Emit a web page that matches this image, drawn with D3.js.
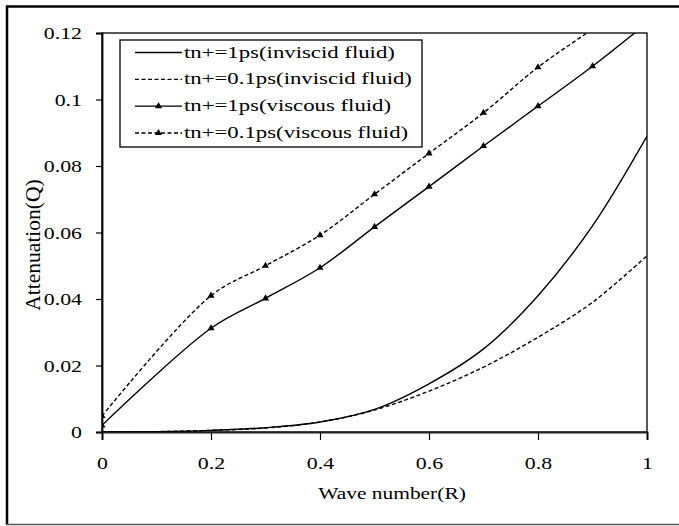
<!DOCTYPE html>
<html>
<head>
<meta charset="utf-8">
<script src="https://cdn.jsdelivr.net/npm/d3@7"></script>
<style>
  body { margin: 0; background: #fff; }
  svg text { font-family: "Liberation Serif", "Times New Roman", Tinos, "DejaVu Serif", serif !important; fill: #000; }
</style>
</head>
<body>
<svg id="chart" width="679" height="526"></svg>
<script>
// wave number samples
const rInviscid = [0, 0.1, 0.2, 0.3, 0.4, 0.5, 0.6, 0.7, 0.8, 0.9, 1.0];
const rViscous = [0, 0.2, 0.3, 0.4, 0.5, 0.6, 0.7, 0.8, 0.9, 1.0];

// attenuation values
const q1psInviscid = [0, 0.0001, 0.0005, 0.0013, 0.003, 0.0068, 0.0145, 0.025, 0.041, 0.062, 0.089];
const q01psInviscid = [0, 0.0001, 0.0005, 0.0012, 0.003, 0.0066, 0.0123, 0.0195, 0.0285, 0.039, 0.053];
const q1psViscous = [0.002, 0.0312, 0.0402, 0.0494, 0.0617, 0.0738, 0.086, 0.098, 0.110, 0.123];
const q01psViscous = [0.0048, 0.041, 0.050, 0.0592, 0.0715, 0.0838, 0.096, 0.1097, 0.1212, 0.133];

const legendLabels = [
  "tn+=1ps(inviscid fluid)",
  "tn+=0.1ps(inviscid fluid)",
  "tn+=1ps(viscous fluid)",
  "tn+=0.1ps(viscous fluid)",
];
const xTicks = [0, 0.2, 0.4, 0.6, 0.8, 1];
const yTicks = [0, 0.02, 0.04, 0.06, 0.08, 0.1, 0.12];

const series = [
  { r: rInviscid, q: q1psInviscid, dashed: false, marker: false },
  { r: rInviscid, q: q01psInviscid, dashed: true, marker: false },
  { r: rViscous, q: q1psViscous, dashed: false, marker: true },
  { r: rViscous, q: q01psViscous, dashed: true, marker: true },
];

// the source image is stretched sideways, so text gets a horizontal scale
const SX = 1.34;
const FONT = "'Liberation Serif', 'Times New Roman', Tinos, 'DejaVu Serif', serif";

const svg = d3.select("#chart");
const plotL = 102, plotR = 647, plotT = 33, plotB = 432;

const x = d3.scaleLinear().domain([0, 1]).range([plotL, plotR]);
const y = d3.scaleLinear().domain([0, 0.12]).range([plotB, plotT]);

// outer frame (left, top, bottom only)
svg.append("line").attr("x1", 7).attr("x2", 7).attr("y1", 6).attr("y2", 525)
  .attr("stroke", "#000").attr("stroke-width", 2.5);
svg.append("line").attr("x1", 6).attr("x2", 679).attr("y1", 6.5).attr("y2", 6.5)
  .attr("stroke", "#000").attr("stroke-width", 2.5);
svg.append("line").attr("x1", 6).attr("x2", 679).attr("y1", 524.5).attr("y2", 524.5)
  .attr("stroke", "#555").attr("stroke-width", 1.5);

// plot area border
svg.append("rect")
  .attr("x", plotL).attr("y", plotT)
  .attr("width", plotR - plotL).attr("height", plotB - plotT)
  .attr("fill", "none").attr("stroke", "#000").attr("stroke-width", 1.3);

svg.append("clipPath").attr("id", "plot-clip")
  .append("rect")
  .attr("x", plotL).attr("y", plotT)
  .attr("width", plotR - plotL).attr("height", plotB - plotT);

// axes
const yAxis = svg.append("g")
  .attr("transform", `translate(${plotL},0)`)
  .call(d3.axisLeft(y).tickValues(yTicks).tickSize(6).tickFormat(d3.format("~g")))
  .attr("font-family", FONT);
yAxis.select(".domain").attr("stroke-width", 1.8);
yAxis.selectAll(".tick line").attr("stroke-width", 1.2);
yAxis.selectAll(".tick text")
  .attr("x", -20 / SX)
  .attr("dy", "0.34em")
  .attr("transform", `scale(${SX},1)`)
  .attr("font-family", FONT)
  .style("font-size", "16.3px");

const xAxis = svg.append("g")
  .attr("transform", `translate(0,${plotB})`)
  .call(d3.axisBottom(x).tickValues(xTicks).tickSize(8).tickFormat(d3.format("~g")))
  .attr("font-family", FONT);
xAxis.select(".domain").attr("stroke-width", 2).attr("stroke", "#222");
xAxis.selectAll(".tick line").attr("stroke-width", 1.2);
xAxis.selectAll(".tick text")
  .attr("x", 0)
  .attr("y", 37)
  .attr("dy", "0")
  .attr("transform", `scale(${SX},1)`)
  .attr("font-family", FONT)
  .style("font-size", "16.3px");

// axis titles
svg.append("text")
  .attr("transform", `translate(392,499) scale(${SX},1)`)
  .attr("text-anchor", "middle")
  .attr("font-family", FONT)
  .style("font-size", "16px")
  .text("Wave number(R)");

svg.append("text")
  .attr("transform", "translate(33,245) rotate(-90)")
  .attr("text-anchor", "middle")
  .attr("dominant-baseline", "central")
  .attr("font-family", FONT)
  .style("font-size", "21.5px")
  .text("Attenuation(Q)");

// series
const line = d3.line()
  .x((d) => x(d[0]))
  .y((d) => y(d[1]))
  .curve(d3.curveCatmullRom.alpha(0.5));

const tri = d3.symbol().type(d3.symbolTriangle).size(22);

const plot = svg.append("g").attr("clip-path", "url(#plot-clip)");
series.forEach((s) => {
  const pts = s.r.map((r, i) => [r, s.q[i]]);
  plot.append("path")
    .attr("d", line(pts))
    .attr("fill", "none")
    .attr("stroke", "#000")
    .attr("stroke-width", 1.4)
    .attr("stroke-dasharray", s.dashed ? "4,2.5" : null);
  if (s.marker) {
    plot.selectAll(null)
      .data(pts)
      .join("path")
      .attr("d", tri)
      .attr("transform", (d) => `translate(${x(d[0])},${y(d[1])})`)
      .attr("fill", "#000");
  }
});

// legend
const legend = svg.append("g");
legend.append("rect")
  .attr("x", 120).attr("y", 40)
  .attr("width", 302).attr("height", 107)
  .attr("fill", "#fff").attr("stroke", "#000").attr("stroke-width", 1.3);

const rowY = d3.scaleLinear().domain([0, 3]).range([52.5, 133]);
legendLabels.forEach((label, i) => {
  const s = series[i];
  const yy = rowY(i);
  legend.append("line")
    .attr("x1", 135).attr("x2", 182)
    .attr("y1", yy).attr("y2", yy)
    .attr("stroke", "#000").attr("stroke-width", 1.4)
    .attr("stroke-dasharray", s.dashed ? "4,2.5" : null);
  if (s.marker) {
    legend.append("path")
      .attr("d", tri)
      .attr("transform", `translate(158.5,${yy})`)
      .attr("fill", "#000");
  }
  legend.append("text")
    .attr("transform", `translate(184,${yy + 5}) scale(${SX},1)`)
    .attr("font-family", FONT)
    .style("font-size", "17px")
    .text(label);
});
</script>
</body>
</html>
